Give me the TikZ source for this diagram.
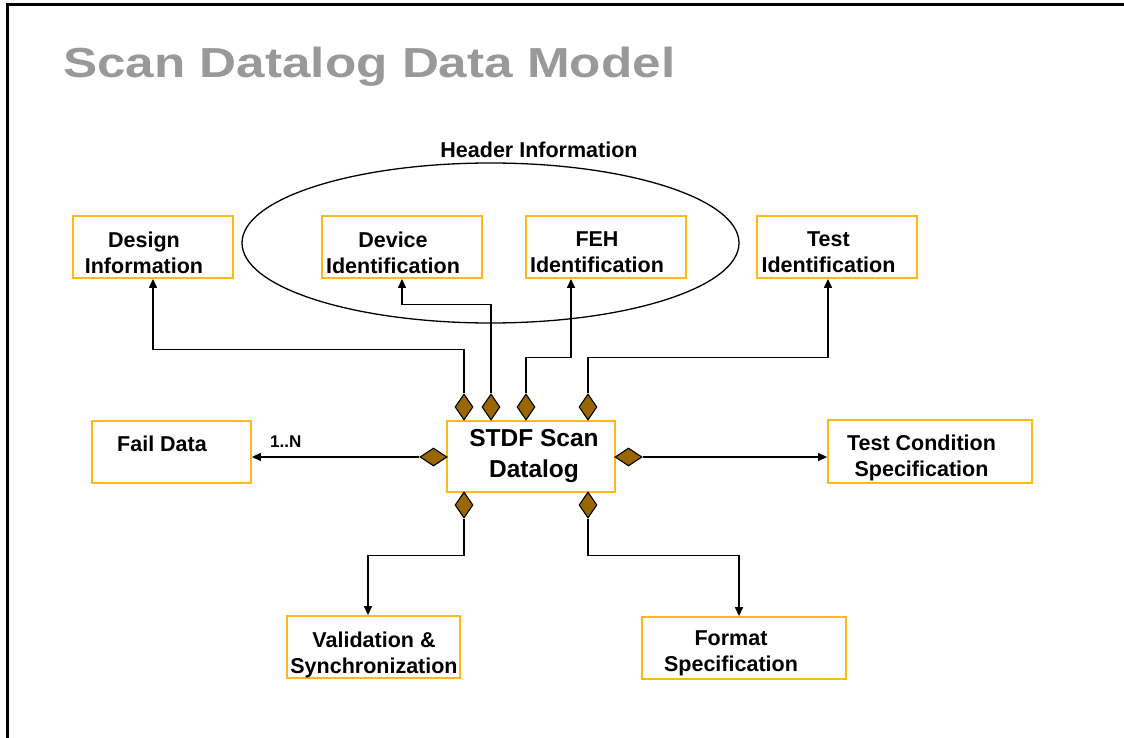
\documentclass[tikz,border=0pt]{standalone}
\usepackage{fontspec}
\setmainfont{Liberation Sans}
\usetikzlibrary{shapes.geometric,arrows.meta}
\definecolor{boxorange}{RGB}{255,185,20}
\definecolor{dbrown}{RGB}{153,102,0}
\definecolor{titlegray}{RGB}{153,153,153}
\tikzset{
  box/.style={draw=boxorange, line width=1.8pt, fill=white, inner sep=0pt},
  txt/.style={font=\fontsize{21.5}{26}\selectfont\bfseries, align=center, inner sep=0pt, anchor=north},
  vdia/.style={diamond, draw=black, fill=dbrown, line width=1.1pt, inner sep=0pt, minimum width=18pt, minimum height=26pt},
  hdia/.style={diamond, draw=black, fill=dbrown, line width=1.1pt, inner sep=0pt, minimum width=27pt, minimum height=18pt},
  conn/.style={line width=1.3pt, -{Triangle[length=9pt,width=8pt]}},
}
\begin{document}
\begin{tikzpicture}[x=1pt,y=-1pt]
\useasboundingbox (0,0) rectangle (1124,738);
% frame
\draw[line width=3pt] (7,745) -- (7,5) -- (1130,5);
% title
\node[anchor=base west, inner sep=0pt, text=titlegray, font=\fontsize{42}{50}\selectfont\bfseries] (title) at (63,78) {\scalebox{1.22}[1]{Scan Datalog Data Model}};
% header ellipse
\node[ellipse, draw, line width=1.3pt, minimum width=497pt, minimum height=160pt] (header) at (490.5,243) {};
\node[font=\fontsize{21.5}{26}\selectfont\bfseries, inner sep=0pt, anchor=base] (headerlbl) at (539,158) {Header Information};
% boxes
\node[box, minimum width=160pt, minimum height=62pt] (design) at (153,247) {};
\node[box, minimum width=160pt, minimum height=62pt] (device) at (402,247) {};
\node[box, minimum width=160pt, minimum height=62pt] (feh) at (606,247) {};
\node[box, minimum width=160pt, minimum height=62pt] (testid) at (837,247) {};
\node[box, minimum width=159pt, minimum height=62pt] (fail) at (171.5,452) {};
\node[box, minimum width=168pt, minimum height=71pt] (stdf) at (531,456.5) {};
\node[box, minimum width=204pt, minimum height=63pt] (tcs) at (930,451.5) {};
\node[box, minimum width=173pt, minimum height=62pt] (valid) at (373.5,647) {};
\node[box, minimum width=204pt, minimum height=62pt] (format) at (744,648) {};
% box texts
\node[txt] (design-t) at (144,231.5) {Design\\Information};
\node[txt] (device-t) at (393,231.5) {Device\\Identification};
\node[txt] (feh-t) at (597,231.5) {FEH\\Identification};
\node[txt] (testid-t) at (828.5,231.5) {Test\\Identification};
\node[txt] (fail-t) at (162,435.5) {Fail Data};
\node[txt, font=\fontsize{24.5}{31}\selectfont\bfseries] (stdf-t) at (534,429.5) {STDF Scan\\Datalog};
\node[txt] (tcs-t) at (921.5,434.5) {Test Condition\\Specification};
\node[txt] (valid-t) at (374,631.5) {Validation \&\\Synchronization};
\node[txt] (format-t) at (731,630.5) {Format\\Specification};
% diamonds
\node[vdia] (d1) at (464,407) {};
\node[vdia] (d2) at (491,407) {};
\node[vdia] (d3) at (526,407) {};
\node[vdia] (d4) at (588,407) {};
\node[hdia] (dl) at (433.5,457) {};
\node[hdia] (dr) at (628.5,457) {};
\node[vdia] (db1) at (464,505) {};
\node[vdia] (db2) at (588,505) {};
% connectors
\draw[conn] (d1.north) -- ++(0,-44) -| (design.south);
\draw[conn] (d2.north) -- ++(0,-89) -| (device.south);
\draw[conn] (d3.north) -- ++(0,-36) -| ([xshift=-35pt]feh.south);
\draw[conn] (d4.north) -- ++(0,-36) -| ([xshift=-9pt]testid.south);
\draw[conn] (dl.west) -- (dl.west -| fail.east);
\draw[conn] (dr.east) -- (dr.east -| tcs.west);
\draw[conn] (db1.south) -- ++(0,37) -| ([xshift=-5.5pt]valid.north);
\draw[conn] (db2.south) -- ++(0,37) -| ([xshift=-5pt]format.north);
\node[anchor=base west, inner sep=0pt, font=\fontsize{17}{20}\selectfont\bfseries] (card) at (270,447) {1..N};
\end{tikzpicture}
\end{document}
